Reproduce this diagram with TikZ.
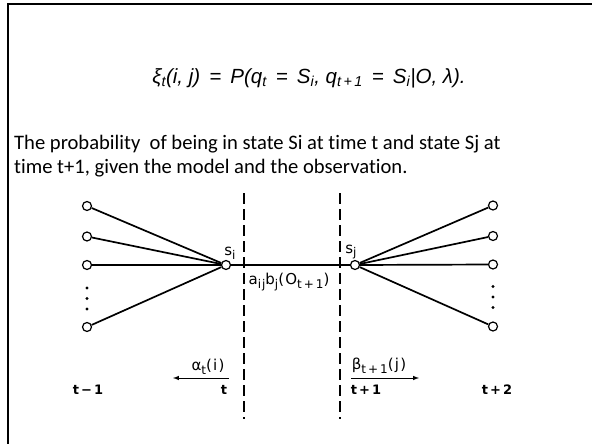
\documentclass[tikz,border=0pt]{standalone}
\usepackage{fontspec}
\setmainfont{Carlito}[Ligatures=NoCommon]
\newfontfamily\eqfont{Liberation Sans}
\newfontfamily\figfont[LetterSpace=8]{DejaVu Sans}
\usetikzlibrary{calc}
\newcommand\lo[1]{\raisebox{-0.45ex}{\fontsize{12}{12}\selectfont#1}}

\begin{document}
\begin{tikzpicture}[
        x=1pt, y=-1pt,
        every node/.style={inner sep=0pt},
        st/.style={circle, draw, line width=1.2pt, fill=white,
          minimum size=9pt},
        fan/.style={line width=1.7pt},
        cut/.style={line width=1.1pt, dash pattern=on 11pt off 5pt},
        flow/.style={-latex, line width=1pt},
        lbl/.style={font=\figfont\fontsize{15}{17}\selectfont},
        tlbl/.style={font=\figfont\bfseries\fontsize{13}{15}\selectfont},
      ]
      \useasboundingbox (0,0) rectangle (592,444);
      \draw[line width=2pt] (7.5,444) -- (7.5,4.5) -- (592,4.5);

      % formula and explanation
      \node (eq) at (309,78)
        {\eqfont\itshape\fontsize{20.5}{24}\selectfont
         ξ\textsubscript{t}(i, j) \,=\, P(q\textsubscript{t} \,=\, S\textsubscript{i},
         q\textsubscript{t\,+\,1} \,=\, S\textsubscript{i}|O, λ).};
      \node[anchor=west, align=left, font=\fontsize{20.6}{24}\selectfont] (txt) at (14,156)
        {The probability\ \ of being in state Si at time t and state Sj at\\
         time t+1, given the model and the observation.};

      % time slices
      \draw[cut] (244,193) -- (244,419);
      \draw[cut] (340,193) -- (340,419);

      % states
      \node[st] (si) at (226,265) {};
      \node[st] (sj) at (355,265) {};
      \foreach \n/\y in {1/206, 2/236.5, 3/265, 4/327} {
        \node[st] (l\n) at (87,\y) {};
        \node[st] (r\n) at (493,\y-0.5) {};
      }
      \foreach \n in {1,...,4} {
        \draw[fan] (l\n) -- (si);
        \draw[fan] (r\n) -- (sj);
      }
      \draw[fan] (si) -- (sj);
      \foreach \y in {288, 298.5, 309} {
        \fill (87,\y) circle (1.7pt);
        \fill (493,\y-1.5) circle (1.7pt);
      }

      \node[lbl] (lsi) at (230,253) {s\lo{i}};
      \node[lbl] (lsj) at (351,252) {s\lo{j}};
      \node[lbl] (ab) at (289,282)
        {a\lo{ij}b\lo{j}(O\lo{t\,+\,1})};

      % forward / backward
      \coordinate (a0) at (229,378);
      \coordinate (a1) at (173,378);
      \coordinate (b0) at (351,378);
      \coordinate (b1) at (419,378);
      \draw[flow] (a0) -- (a1);
      \draw[flow] (b0) -- (b1);
      \node[lbl] (alpha) at (208,367) {α\lo{t}(i)};
      \node[lbl] (beta) at (379,366) {β\lo{t\,+\,1}(j)};

      \node[tlbl] (tm1) at (88,390) {t\,−\,1};
      \node[tlbl] (t0) at (224,390) {t};
      \node[tlbl] (tp1) at (366,390) {t\,+\,1};
      \node[tlbl] (tp2) at (497,390) {t\,+\,2};
    \end{tikzpicture}
\end{document}
